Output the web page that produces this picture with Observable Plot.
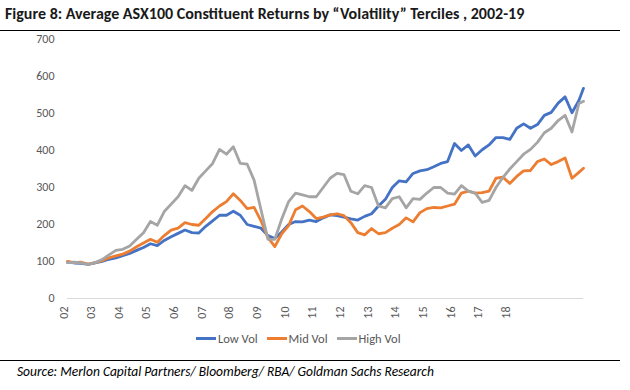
<!DOCTYPE html>
<html><head><meta charset="utf-8">
<script src="https://cdn.jsdelivr.net/npm/d3@7"></script>
<script src="https://cdn.jsdelivr.net/npm/@observablehq/plot@0.6"></script>
<style>
body{margin:0;width:630px;height:390px;position:relative;background:#fff;font-family:Carlito,Calibri,Lato,sans-serif;overflow:hidden}
#title{position:absolute;left:5px;top:4px;font-weight:bold;font-size:16px;color:#1a1a1a;white-space:nowrap}
.rule{position:absolute;left:0;width:620px;height:0;border-top:1.5px solid #000}
#chart{position:absolute;left:0;top:30px}
#legend{position:absolute;top:331px;left:196px;font-size:12.5px;color:#595959;display:flex;align-items:center;white-space:nowrap}
#legend .item{display:flex;align-items:center;margin-right:9px}
#legend .sw{width:20px;height:3px;margin-right:2px}
#source{position:absolute;left:17px;top:363px;font-style:italic;font-size:13.5px;color:#000;white-space:nowrap}
</style></head>
<body>
<div id="title">Figure 8: Average ASX100 Constituent Returns by “Volatility” Terciles , 2002-19</div>
<div class="rule" style="top:30px"></div>
<div id="chart"></div>
<div id="legend"></div>
<div class="rule" style="top:360px"></div>
<div id="source">Source: Merlon Capital Partners/ Bloomberg/ RBA/ Goldman Sachs Research</div>
<script>
const seriesNames = ["Low Vol", "Mid Vol", "High Vol"];
const seriesColors = ["#4472C4", "#ED7D31", "#A5A5A5"];
const yearLabels = ["02","03","04","05","06","07","08","09","10","11","12","13","14","15","16","17","18"];
const yearTickPeriods = [0,12,24,36,48,60,72,84,96,108,120,132,144,156,168,180,192];
const yTicks = [0,100,200,300,400,500,600,700];
// category index (months since start)
const period = [0,3,6,9,12,15,18,21,24,27,30,33,36,39,42,45,48,51,54,57,60,63,66,69,72,75,78,81,84,87,90,93,96,99,102,105,108,111,114,117,120,123,126,129,132,135,138,141,144,147,150,153,156,159,162,165,168,171,174,177,180,183,186,189,192,195,198,201,204,207,210,213,216,219,222,224];
const lowVol = [98,96,95,92,96,100,106,110,116,122,130,138,148,143,157,167,176,185,178,177,195,210,225,225,236,225,200,195,190,170,162,180,200,208,207,212,208,218,226,224,220,215,212,222,229,250,268,300,318,315,338,345,348,356,365,370,419,400,415,385,402,415,435,435,430,460,472,460,470,495,503,528,545,502,535,568];
const midVol = [100,97,98,93,97,102,110,115,120,128,140,150,160,152,170,185,190,205,200,198,216,235,250,262,283,265,243,246,210,165,140,175,197,240,250,235,216,220,226,229,224,205,178,172,189,175,178,190,200,218,207,232,243,246,245,250,255,285,290,285,286,290,325,328,311,330,345,346,370,377,362,370,380,325,341,352];
const highVol = [97,98,96,92,97,105,118,130,133,142,160,178,208,198,235,255,275,305,292,325,345,365,403,390,410,365,363,320,240,160,160,215,262,285,280,275,275,300,325,338,335,290,283,305,300,250,245,270,275,245,270,268,285,300,300,285,282,305,290,285,260,265,300,327,350,370,390,403,422,448,460,481,495,450,527,533];

const valuesBySeries = [lowVol, midVol, highVol];
const data = [];
seriesNames.forEach((s, si) => period.forEach((t, i) => data.push({series: s, t, v: valuesBySeries[si][i]})));

const font = "Carlito, Calibri, Lato, sans-serif";
const chart = Plot.plot({
  width: 630, height: 300,
  marginLeft: 67, marginRight: 47, marginTop: 9, marginBottom: 32,
  style: {fontFamily: font, fontSize: "12px", color: "#595959", background: "transparent"},
  x: {domain: [0, 224], axis: null},
  y: {domain: [0, 700], ticks: yTicks, tickSize: 0, tickPadding: 13, label: null, tickFormat: d => String(d)},
  color: {domain: seriesNames, range: seriesColors},
  marks: [
    Plot.ruleY([0], {stroke: "#D9D9D9", strokeWidth: 1}),
    Plot.text(yearTickPeriods, {x: d => d, text: (d, i) => yearLabels[i], frameAnchor: "bottom", rotate: -90, textAnchor: "end", dy: 8, fill: "#595959", fontSize: 12}),
    Plot.line(data, {x: "t", y: "v", stroke: "series", strokeWidth: 2.8, strokeLinejoin: "round", strokeLinecap: "round"})
  ]
});
document.getElementById("chart").appendChild(chart);

const legend = document.getElementById("legend");
seriesNames.forEach((s, i) => {
  const item = document.createElement("div");
  item.className = "item";
  const sw = document.createElement("div");
  sw.className = "sw";
  sw.style.background = seriesColors[i];
  const lab = document.createElement("span");
  lab.textContent = s;
  item.appendChild(sw); item.appendChild(lab);
  legend.appendChild(item);
});
</script>
</body></html>
